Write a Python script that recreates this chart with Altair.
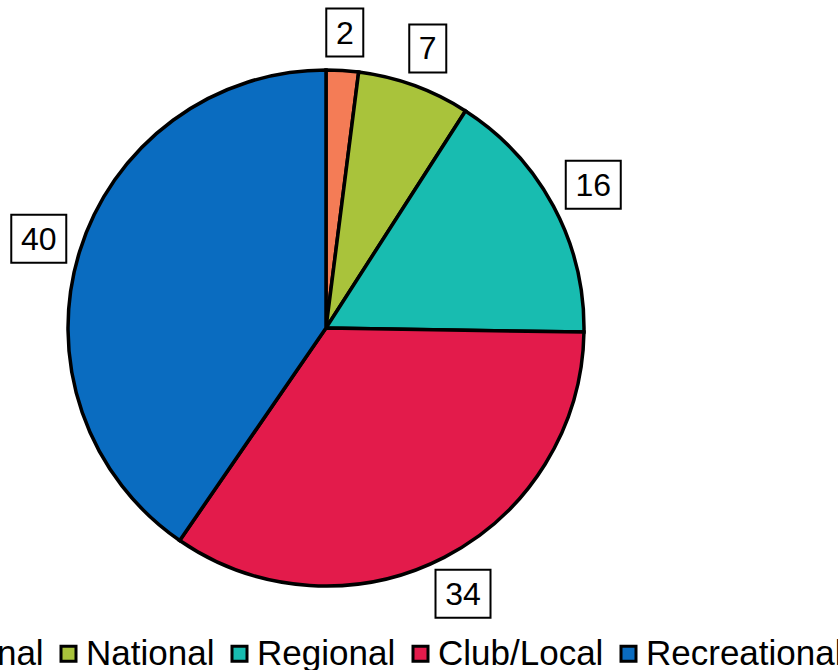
import altair as alt
import pandas as pd

categories = ["International", "National", "Regional", "Club/Local", "Recreational"]
values = [2, 7, 16, 34, 40]
colors = ["#F47C56", "#A9C33B", "#18BCB0", "#E31B4B", "#0A6CC0"]

CX, CY = 326, 328
R_PIE = 258
GAP = 14
BOX_H = 24           # half height of label box
BOX_W1, BOX_W2 = 18.5, 27.5   # half widths of 1-digit / 2-digit label boxes
FONT = "Liberation Sans"

df = pd.DataFrame({
    "category": categories,
    "value": values,
    "idx": list(range(len(categories))),
})
df["box"] = ["one" if len(str(v)) == 1 else "two" for v in values]

base = alt.Chart(df)

pie = base.mark_arc(outerRadius=R_PIE, stroke="black", strokeWidth=3.5).encode(
    theta=alt.Theta("value:Q", stack=True),
    order=alt.Order("idx:Q"),
    color=alt.Color(
        "category:N",
        scale=alt.Scale(domain=categories, range=colors),
        sort=categories,
        legend=alt.Legend(
            title=None,
            orient="none",
            legendX=-188,
            legendY=636,
            direction="horizontal",
            symbolType="square",
            symbolSize=225,
            symbolStrokeColor="black",
            symbolStrokeWidth=3,
            symbolOpacity=1,
            symbolOffset=4,
            labelFont=FONT,
            labelFontSize=35,
            labelColor="black",
            labelOffset=0,
            labelLimit=400,
            columnPadding=3,
        ),
    ),
    x=alt.value(CX),
    y=alt.value(CY),
)

pos = base.transform_joinaggregate(
    total="sum(value)"
).transform_window(
    cum="sum(value)", sort=[alt.SortField("idx")], frame=[None, 0]
).transform_calculate(
    mid="(datum.cum - datum.value / 2) / datum.total * 2 * PI",
).transform_calculate(
    hw=f"datum.box == 'one' ? {BOX_W1} : {BOX_W2}",
).transform_calculate(
    rad=(f"{R_PIE} + {GAP} + min(datum.hw / max(abs(sin(datum.mid)), 1e-6), "
         f"{BOX_H} / max(abs(cos(datum.mid)), 1e-6))"),
).transform_calculate(
    bx=f"{CX} + datum.rad * sin(datum.mid)",
    by=f"{CY} - datum.rad * cos(datum.mid)",
)

path_one = f"M-{BOX_W1/BOX_W2:.3f},-{BOX_H/BOX_W2:.3f}H{BOX_W1/BOX_W2:.3f}V{BOX_H/BOX_W2:.3f}H-{BOX_W1/BOX_W2:.3f}Z"
path_two = f"M-1,-{BOX_H/BOX_W2:.3f}H1V{BOX_H/BOX_W2:.3f}H-1Z"

boxes = pos.mark_point(filled=False, fill="white", fillOpacity=1, stroke="black",
                       strokeWidth=2, opacity=1, size=(2 * BOX_W2) ** 2).encode(
    x=alt.X("bx:Q", scale=None),
    y=alt.Y("by:Q", scale=None),
    shape=alt.Shape("box:N", scale=alt.Scale(domain=["one", "two"], range=[path_one, path_two]),
                    legend=None),
)

labels = pos.mark_text(font=FONT, fontSize=32, color="black", baseline="middle",
                       align="center", dy=1).encode(
    x=alt.X("bx:Q", scale=None),
    y=alt.Y("by:Q", scale=None),
    text=alt.Text("value:Q"),
)

chart = alt.layer(pie, boxes, labels).properties(
    width=838, height=670,
    autosize=alt.AutoSizeParams(type="none"),
    padding=0,
    background="white",
).configure_view(stroke=None)

chart.save("out.html", embed_options={"renderer": "svg", "actions": False})
